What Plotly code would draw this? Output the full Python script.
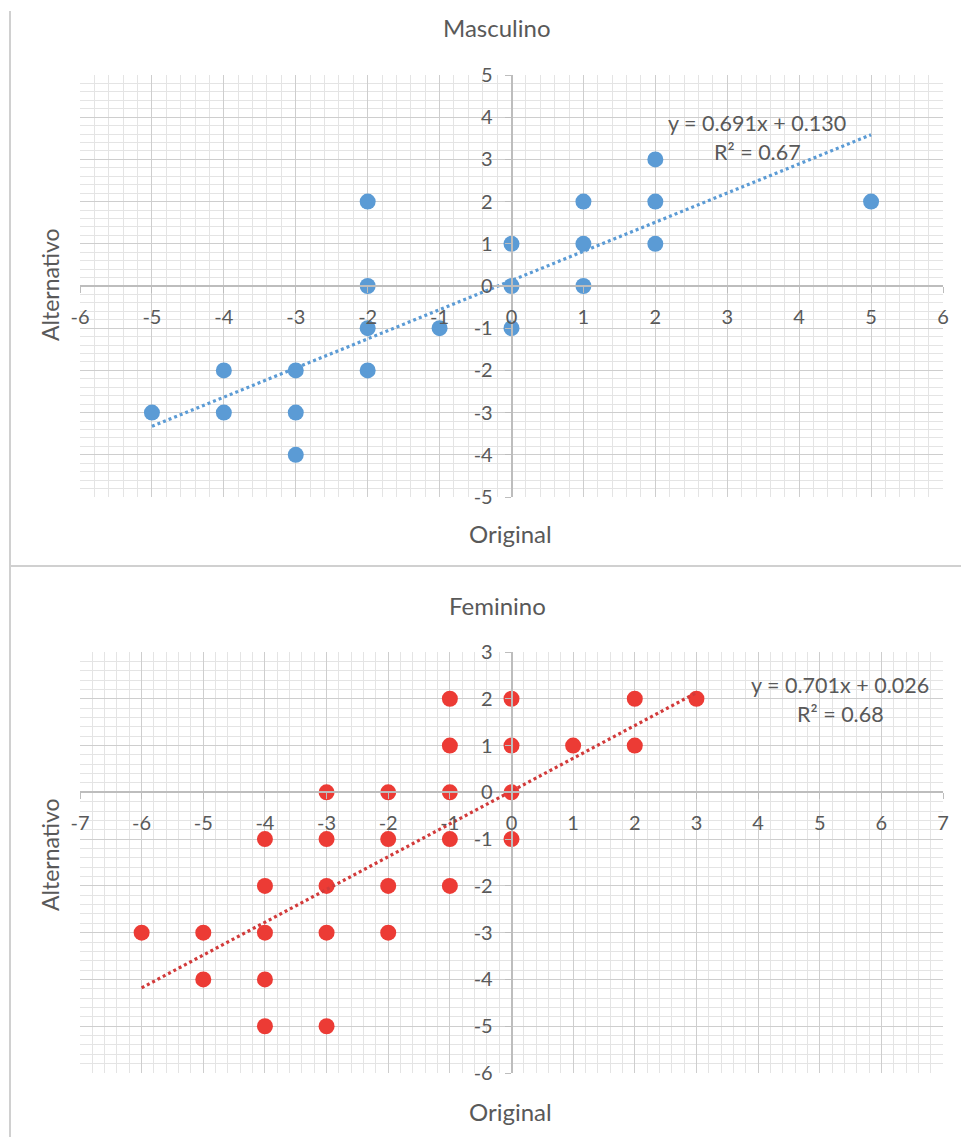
import numpy as np
import plotly.graph_objects as go

# ---------------- data ----------------
masc_x = [-5, -4, -4, -3, -3, -3, -2, -2, -2, -2, -1, 0, 0, 0, 1, 1, 1, 2, 2, 2, 5]
masc_y = [-3, -2, -3, -2, -3, -4, 2, 0, -1, -2, -1, 1, 0, -1, 2, 1, 0, 3, 2, 1, 2]
masc_fit = [0.691, 0.130]   # slope, intercept
masc_r2 = 0.67

fem_x = [-6, -5, -5, -4, -4, -4, -4, -4, -3, -3, -3, -3, -3, -2, -2, -2, -2,
         -1, -1, -1, -1, -1, 0, 0, 0, 0, 1, 2, 2, 3]
fem_y = [-3, -3, -4, -1, -2, -3, -4, -5, 0, -1, -2, -3, -5, 0, -1, -2, -3,
         2, 1, 0, -1, -2, 2, 1, 0, -1, 1, 2, 1, 2]
fem_fit = [0.701, 0.026]
fem_r2 = 0.68

masc_xrange = [-6, 6]
masc_yrange = [-5, 5]
fem_xrange = [-7, 7]
fem_yrange = [-6, 3]

masc_xticks = list(range(-6, 7))
masc_yticks = list(range(-5, 6))
fem_xticks = list(range(-7, 8))
fem_yticks = list(range(-6, 4))

# ---------------- styling ----------------
PAGE_OFF = 8                 # default body margin of the page
W, H = 969 - PAGE_OFF, 1137 - PAGE_OFF
FONT = "Lato"
TXT = "#595959"
BLUE = "#5b9bd5"
RED = "#ec3b35"
RED_LINE = "#d23a3a"

def px_x(p):
    return (p - PAGE_OFF) / W

def px_y(p):
    return 1 - (p - PAGE_OFF) / H

xdom = [px_x(80), px_x(943)]
top_dom = [px_y(497), px_y(75)]
bot_dom = [px_y(1073), px_y(652)]

def cross_pos(dom, rng):
    return dom[0] + (0 - rng[0]) / (rng[1] - rng[0]) * (dom[1] - dom[0])

def axis_common(rng, dom, pos, ticks, is_x):
    d = dict(
        range=rng, domain=dom, anchor="free", position=pos, automargin=False,
        tickmode="array", tickvals=ticks, ticktext=[str(t) for t in ticks],
        showgrid=True, gridcolor="#cecece", gridwidth=1.4,
        minor=dict(dtick=0.2, tick0=0, showgrid=True, gridcolor="#e4e4e4", gridwidth=1),
        showline=True, linecolor="#bdbdbd", linewidth=1.6,
        zeroline=False, ticks="outside", ticklen=6, tickcolor="#bdbdbd",
        tickfont=dict(family=FONT, size=20, color=TXT),
        fixedrange=True,
    )
    d["ticklabelstandoff"] = 7 if is_x else 8
    return d

fig = go.Figure()

def add_panel(xs, ys, fit, color, line_color, xa, ya):
    fig.add_trace(go.Scatter(
        x=xs, y=ys, mode="markers", xaxis=xa, yaxis=ya,
        marker=dict(size=16, color=color), showlegend=False, hoverinfo="x+y"))
    lx = np.array([min(xs), max(xs)], dtype=float)
    ly = fit[0] * lx + fit[1]
    fig.add_trace(go.Scatter(
        x=lx, y=ly, mode="lines", xaxis=xa, yaxis=ya,
        line=dict(color=line_color, width=3.2, dash="3px,3px"),
        showlegend=False, hoverinfo="skip"))

add_panel(masc_x, masc_y, masc_fit, BLUE, BLUE, "x", "y")
add_panel(fem_x, fem_y, fem_fit, RED, RED_LINE, "x2", "y2")

fig.update_layout(
    width=W, height=H, margin=dict(l=0, r=0, t=0, b=0, pad=0, autoexpand=False),
    paper_bgcolor="white", plot_bgcolor="white",
    xaxis=axis_common(masc_xrange, xdom, cross_pos(top_dom, masc_yrange), masc_xticks, True),
    yaxis=axis_common(masc_yrange, top_dom, cross_pos(xdom, masc_xrange), masc_yticks, False),
    xaxis2=axis_common(fem_xrange, xdom, cross_pos(bot_dom, fem_yrange), fem_xticks, True),
    yaxis2=axis_common(fem_yrange, bot_dom, cross_pos(xdom, fem_xrange), fem_yticks, False),
)

def note(text, x, y, size, angle=0):
    fig.add_annotation(text=text, x=x, y=y, xref="paper", yref="paper",
                       xanchor="center", yanchor="middle", showarrow=False,
                       textangle=angle, font=dict(family=FONT, size=size, color=TXT))

note("Masculino", px_x(497), px_y(28), 24)
note("Feminino", px_x(497), px_y(605), 24)
note("Original", px_x(510), px_y(533), 24)
note("Original", px_x(510), px_y(1111), 24)
note("Alternativo", px_x(50), px_y(285), 23, -90)
note("Alternativo", px_x(50), px_y(855), 23, -90)

note(f"y = {masc_fit[0]:.3f}x + {masc_fit[1]:.3f}", px_x(757), px_y(123), 21.5)
note(f"R² = {masc_r2:.2f}", px_x(757), px_y(152), 21.5)
note(f"y = {fem_fit[0]:.3f}x + {fem_fit[1]:.3f}", px_x(840), px_y(685), 21.5)
note(f"R² = {fem_r2:.2f}", px_x(840), px_y(714), 21.5)

# frame lines of the two chart boxes
fig.add_shape(type="line", xref="paper", yref="paper",
              x0=px_x(10), x1=px_x(10), y0=0, y1=px_y(11),
              line=dict(color="#d0d0d0", width=2))
fig.add_shape(type="line", xref="paper", yref="paper",
              x0=px_x(10), x1=1, y0=px_y(566), y1=px_y(566),
              line=dict(color="#d0d0d0", width=2))

fig.write_html("out.html")
